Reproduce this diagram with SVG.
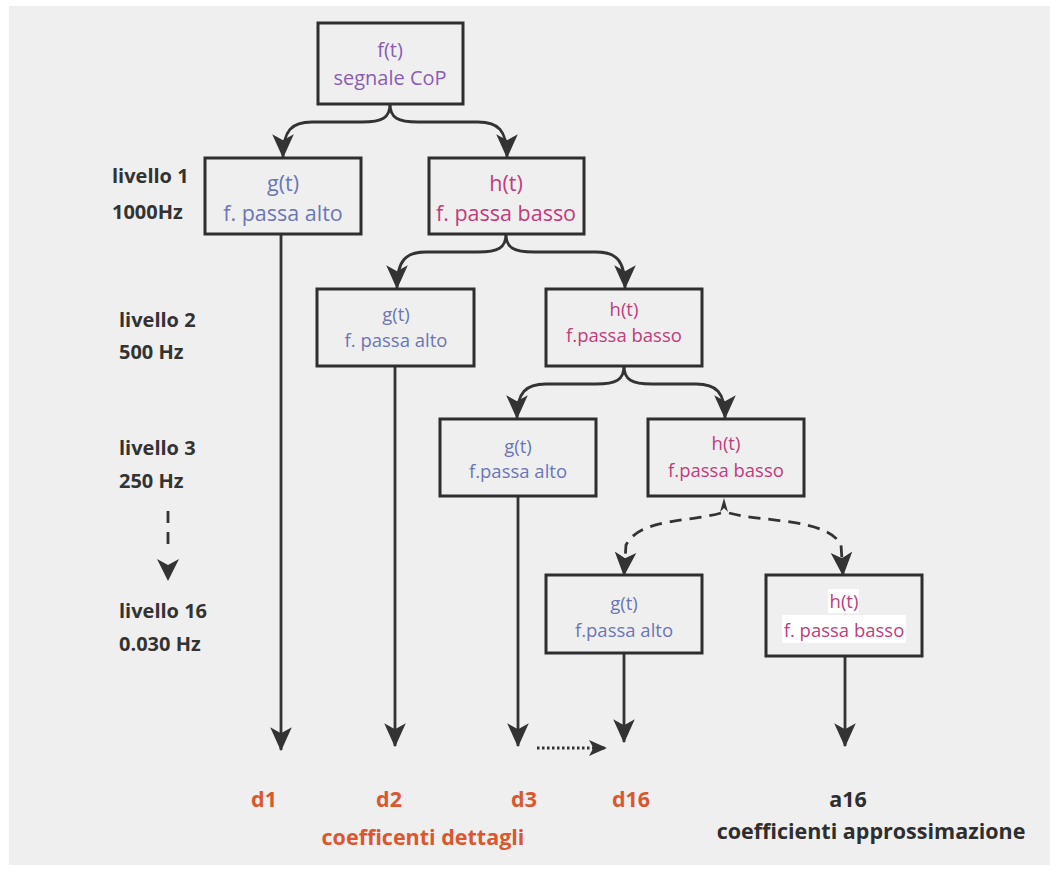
<svg xmlns="http://www.w3.org/2000/svg" width="1057" height="872" viewBox="0 0 1057 872">
<style>
.box{fill:none;stroke:#2e2e2e;stroke-width:3}
.con{fill:none;stroke:#333;stroke-width:2.8}
.dash{stroke-dasharray:12,8}
.t{font-family:"Open Sans","Noto Sans",sans-serif;text-anchor:middle}
.pu{fill:#8a5db4}
.bl{fill:#6b76b6}
.pk{fill:#c23c7c}
.lv{font-family:"Open Sans","Noto Sans",sans-serif;font-weight:bold;font-size:20px;fill:#333}
.d{font-family:"Open Sans","Noto Sans",sans-serif;font-weight:bold;font-size:21.5px;fill:#d9582f;text-anchor:middle}
.k{font-family:"Open Sans","Noto Sans",sans-serif;font-weight:bold;font-size:21.5px;fill:#2e2e2e;text-anchor:middle}
</style>
<defs>
<marker id="ah" viewBox="0 0 20 20" refX="19" refY="10" markerWidth="24" markerHeight="24" markerUnits="userSpaceOnUse" orient="auto">
<path d="M0,1 L20,10 L0,19 L5,10 z" fill="#333"/>
</marker>
<marker id="ahs" viewBox="0 0 20 20" refX="19" refY="10" markerWidth="18" markerHeight="18" markerUnits="userSpaceOnUse" orient="auto">
<path d="M0,1 L20,10 L0,19 L5,10 z" fill="#333"/>
</marker>
</defs>
<rect x="0" y="0" width="1057" height="872" fill="#ffffff"/>
<rect x="9" y="6" width="1041" height="859" fill="#efefef"/>

<g id="connectors">
<path class="con" marker-end="url(#ah)" d="M390,104 C390,118 382,122 362,122 L312,122 C292,122 283,130 283,157"/>
<path class="con" marker-end="url(#ah)" d="M390,104 C390,118 398,122 418,122 L478,122 C498,122 507,130 507,157"/>
<path class="con" marker-end="url(#ah)" d="M506,234 C506,248 498,252 478,252 L426,252 C406,252 397,260 397,288"/>
<path class="con" marker-end="url(#ah)" d="M506,234 C506,248 514,252 534,252 L596,252 C616,252 625,260 625,288"/>
<path class="con" marker-end="url(#ah)" d="M624,366 C624,380 616,384 596,384 L546,384 C526,384 517,392 517,418"/>
<path class="con" marker-end="url(#ah)" d="M624,366 C624,380 632,384 652,384 L696,384 C716,384 725,392 725,418"/>
<path class="con dash" marker-end="url(#ah)" d="M721,513 C690,522 640,518 626,545 L624,575"/>
<path class="con dash" marker-end="url(#ah)" d="M729,513 C760,522 828,518 841,545 L843,575"/>
<path d="M720,512 L724,498 L728,512 L724,508 z" fill="#333"/>
<path class="con" marker-end="url(#ah)" d="M281,235 L281,750"/>
<path class="con" marker-end="url(#ah)" d="M395,367 L395,746"/>
<path class="con" marker-end="url(#ah)" d="M518,497 L518,746"/>
<path class="con" marker-end="url(#ah)" d="M624,654 L624,742"/>
<path class="con" marker-end="url(#ah)" d="M845,657 L845,746"/>
<path class="con" stroke-dasharray="2.5,2.5" marker-end="url(#ahs)" d="M537,748 L606,748"/>
<path class="con" stroke-dasharray="12,9" d="M168,511 L168,552"/>
<path d="M157,559 L168,581 L179,559 L168,565 z" fill="#333"/>
</g>

<g id="f">
<rect class="box" x="318" y="23" width="145" height="81"/>
<text class="t pu" x="390" y="57" font-size="20">f(t)</text>
<text class="t pu" x="390" y="85" font-size="20">segnale CoP</text>
</g>
<g id="g1">
<rect class="box" x="205" y="158" width="156" height="76"/>
<text class="t bl" x="283" y="191" font-size="21.5">g(t)</text>
<text class="t bl" x="283" y="221" font-size="21.5">f. passa alto</text>
</g>
<g id="h1">
<rect class="box" x="429" y="158" width="155" height="76"/>
<text class="t pk" x="506" y="191" font-size="21.5">h(t)</text>
<text class="t pk" x="506" y="221" font-size="21.5">f. passa basso</text>
</g>
<g id="g2">
<rect class="box" x="317" y="289" width="157" height="77"/>
<text class="t bl" x="396" y="321" font-size="18.5">g(t)</text>
<text class="t bl" x="396" y="347" font-size="18.5">f. passa alto</text>
</g>
<g id="h2">
<rect class="box" x="546" y="289" width="156" height="77"/>
<text class="t pk" x="624" y="316" font-size="18.5">h(t)</text>
<text class="t pk" x="624" y="342" font-size="18.5">f.passa basso</text>
</g>
<g id="g3">
<rect class="box" x="440" y="419" width="156" height="77"/>
<text class="t bl" x="518" y="453" font-size="18.5">g(t)</text>
<text class="t bl" x="518" y="478" font-size="18.5">f.passa alto</text>
</g>
<g id="h3">
<rect class="box" x="648" y="419" width="156" height="77"/>
<text class="t pk" x="726" y="450" font-size="18.5">h(t)</text>
<text class="t pk" x="726" y="477" font-size="18.5">f.passa basso</text>
</g>
<g id="g16">
<rect class="box" x="546" y="575" width="156" height="78"/>
<text class="t bl" x="624" y="610" font-size="18.5">g(t)</text>
<text class="t bl" x="624" y="637" font-size="18.5">f.passa alto</text>
</g>
<g id="h16">
<rect class="box" x="766" y="575" width="156" height="81"/>
<rect x="828" y="589" width="31" height="24" fill="#ffffff"/>
<rect x="782" y="615" width="124" height="28" fill="#ffffff"/>
<text class="t pk" x="844" y="608" font-size="18.5">h(t)</text>
<text class="t pk" x="844" y="637" font-size="18.5">f. passa basso</text>
</g>

<g id="levels">
<text class="lv" x="112" y="183">livello 1</text>
<text class="lv" x="112" y="219">1000Hz</text>
<text class="lv" x="119" y="327">livello 2</text>
<text class="lv" x="119" y="359">500 Hz</text>
<text class="lv" x="119" y="455">livello 3</text>
<text class="lv" x="119" y="488">250 Hz</text>
<text class="lv" x="119" y="618">livello 16</text>
<text class="lv" x="119" y="651">0.030 Hz</text>
</g>

<g id="outputs">
<text class="d" x="264" y="807">d1</text>
<text class="d" x="389" y="807">d2</text>
<text class="d" x="524" y="807">d3</text>
<text class="d" x="631" y="807">d16</text>
<text class="d" x="423" y="845">coefficenti dettagli</text>
<text class="k" x="848" y="807">a16</text>
<text class="k" x="871" y="839">coefficienti approssimazione</text>
</g>
</svg>
